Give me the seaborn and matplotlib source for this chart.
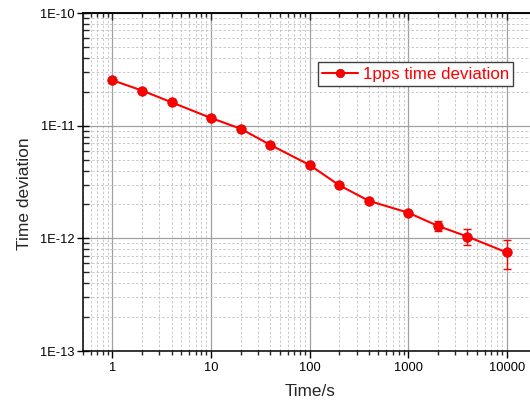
import numpy as np
import pandas as pd
import matplotlib
matplotlib.use("Agg")
import matplotlib.pyplot as plt
import seaborn as sns
from matplotlib.ticker import LogLocator, FixedLocator, FixedFormatter, NullFormatter

# ---- data ----
times = [1, 2, 4, 10, 20, 40, 100, 200, 400, 1000, 2000, 4000, 10000]
tdev = [2.53e-11, 2.05e-11, 1.61e-11, 1.17e-11, 9.4e-12, 6.75e-12, 4.48e-12,
        2.96e-12, 2.15e-12, 1.69e-12, 1.29e-12, 1.035e-12, 7.5e-13]
err_times = [2000, 4000, 10000]
err_vals = [1.4e-13, 1.7e-13, 2.2e-13]
err_centers = [1.29e-12, 1.035e-12, 7.5e-13]
xtick_vals = [1, 10, 100, 1000, 10000]
xtick_labels = ["1", "10", "100", "1000", "10000"]
ytick_vals = [1e-13, 1e-12, 1e-11, 1e-10]
ytick_labels = ["1E-13", "1E-12", "1E-11", "1E-10"]
series_name = "1pps time deviation"

df = pd.DataFrame({"Time/s": times, "Time deviation": tdev, "series": series_name})

sns.set_style("white")
plt.rcParams["font.family"] = ["Liberation Sans", "DejaVu Sans"]

fig = plt.figure(figsize=(5.30, 4.05), dpi=100)
ax = fig.add_axes([82.7 / 530, 1 - 351 / 405, (536.4 - 82.7) / 530, (351 - 13) / 405])

ax.set_xscale("log")
ax.set_yscale("log")
ax.set_xlim(0.5, 20000)
ax.set_ylim(1e-13, 1e-10)

# grid
ax.grid(True, which="major", color="#a0a0a0", linestyle="-", linewidth=0.9, zorder=0)
ax.grid(True, which="minor", color="#c8c8c8", linestyle=(0, (2.5, 2)), linewidth=0.7, zorder=0)
ax.set_axisbelow(True)

red = "#ff0000"
ax.errorbar(err_times, err_centers, yerr=err_vals, fmt="none", ecolor=red,
            elinewidth=1.0, capsize=2.8, capthick=1.0, zorder=2)
sns.lineplot(data=df, x="Time/s", y="Time deviation", hue="series",
             palette=[red], marker="o", markersize=6.8, linewidth=1.5,
             markeredgecolor="#d80000", markeredgewidth=0.6, ax=ax, zorder=3)

# ticks
ax.xaxis.set_major_locator(FixedLocator(xtick_vals))
ax.xaxis.set_major_formatter(FixedFormatter(xtick_labels))
ax.xaxis.set_minor_locator(LogLocator(base=10, subs=np.arange(2, 10), numticks=20))
ax.xaxis.set_minor_formatter(NullFormatter())
ax.yaxis.set_major_locator(FixedLocator(ytick_vals))
ax.yaxis.set_major_formatter(FixedFormatter(ytick_labels))
ax.yaxis.set_minor_locator(LogLocator(base=10, subs=np.arange(2, 10), numticks=20))
ax.yaxis.set_minor_formatter(NullFormatter())

ax.tick_params(axis="x", which="major", direction="out", length=5, width=1.0,
               labelsize=9.3, colors="black", pad=3, bottom=True)
ax.tick_params(axis="x", which="minor", direction="out", length=3, width=1.0, bottom=True)
ax.tick_params(axis="y", which="major", direction="inout", length=8, width=1.0,
               labelsize=9.3, colors="black", pad=2, left=True)
ax.tick_params(axis="y", which="minor", direction="in", length=4, width=1.0, left=True)

for s in ["left", "bottom", "top"]:
    ax.spines[s].set_visible(True)
    ax.spines[s].set_color("black")
    ax.spines[s].set_linewidth(1.1)
ax.spines["right"].set_visible(False)

# top axis ticks pointing inward
ax2 = ax.twiny()
ax2.set_xscale("log")
ax2.set_xlim(ax.get_xlim())
ax2.xaxis.set_major_locator(FixedLocator(xtick_vals))
ax2.xaxis.set_minor_locator(LogLocator(base=10, subs=np.arange(2, 10), numticks=20))
ax2.xaxis.set_major_formatter(NullFormatter())
ax2.xaxis.set_minor_formatter(NullFormatter())
ax2.tick_params(axis="x", which="major", direction="in", length=5, width=1.0, top=True)
ax2.tick_params(axis="x", which="minor", direction="in", length=3, width=1.0, top=True)
ax2.grid(False)
for s in ["left", "bottom", "right"]:
    ax2.spines[s].set_visible(False)
ax2.spines["top"].set_linewidth(1.1)
ax2.spines["top"].set_color("black")

ax.set_xlabel("Time/s", fontsize=12.3)
ax.set_ylabel("Time deviation", fontsize=12.5)
ax.xaxis.set_label_coords((310 - 82.7) / (536.4 - 82.7), (351 - 384) / 338)
ax.yaxis.set_label_coords((32 - 82.7) / (536.4 - 82.7), (351 - 194) / 338)

leg = ax.legend(loc="upper right", bbox_to_anchor=(513.3 / 530, 1 - 62.3 / 405),
                bbox_transform=fig.transFigure, borderaxespad=0, frameon=True,
                fancybox=False, fontsize=12.2, handlelength=2.1, handletextpad=0.3,
                borderpad=0.25, labelcolor=red)
leg.get_frame().set_edgecolor("#404040")
leg.get_frame().set_linewidth(1.0)
leg.get_frame().set_alpha(1)
for h in leg.legend_handles:
    h.set_markersize(6)

fig.savefig("out.png", dpi=100)
